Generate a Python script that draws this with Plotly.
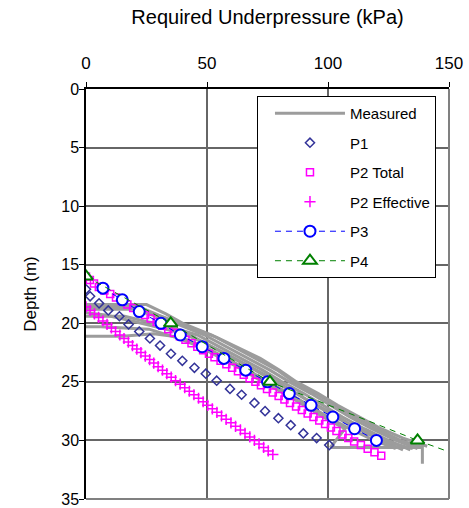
import plotly.graph_objects as go

# Required underpressure vs depth
# Measured profiles (kPa, m)
meas_1_x = [0, 25, 33, 40, 52, 61, 70, 79, 86, 95, 103, 111, 120, 130, 139]
meas_1_d = [18.4, 18.4, 19.2, 20.0, 21.0, 22.0, 23.0, 24.0, 25.0, 26.0, 27.0, 28.0, 29.0, 30.0, 30.6]
meas_2_x = [0, 20, 29, 37, 49, 58, 67, 76, 84, 93, 101, 109, 118, 128, 137]
meas_2_d = [18.8, 18.8, 19.4, 20.0, 21.0, 22.0, 23.0, 24.0, 25.0, 26.0, 27.0, 28.0, 29.0, 30.0, 30.7]
meas_3_x = [0, 16, 24, 33, 46, 55, 64, 73, 81, 90, 98, 106, 115, 125, 134]
meas_3_d = [19.4, 19.4, 19.8, 20.2, 21.0, 22.0, 23.0, 24.0, 25.0, 26.0, 27.0, 28.0, 29.0, 30.0, 30.8]
meas_4_x = [0, 8, 19, 29, 43, 52, 61, 70, 78, 87, 95, 103, 112, 122, 131]
meas_4_d = [19.1, 19.3, 19.8, 20.3, 21.0, 22.0, 23.0, 24.0, 25.0, 26.0, 27.0, 28.0, 29.0, 30.0, 30.8]
meas_5_x = [0, 15, 28, 39, 49, 58, 67, 75, 84, 92, 100, 109, 119, 128]
meas_5_d = [21.1, 21.1, 20.9, 21.2, 22.0, 23.0, 24.0, 25.0, 26.0, 27.0, 28.0, 29.0, 30.0, 30.7]
meas_6_x = [0, 6, 26, 37, 47, 56, 65, 73, 82, 90, 98, 107, 101, 139, 139]
meas_6_d = [20.3, 20.3, 20.5, 21.2, 22.0, 23.0, 24.0, 25.0, 26.0, 27.0, 28.0, 29.0, 30.6, 30.6, 32.0]
meas_7_x = [0, 22, 30, 41, 54, 63, 72, 80, 87, 96, 104, 113, 122, 131, 141]
meas_7_d = [18.6, 18.6, 19.3, 20.2, 21.2, 22.1, 23.0, 24.0, 25.0, 26.0, 27.0, 28.0, 29.0, 29.8, 30.5]
meas_8_x = [31, 36, 47, 57, 66, 74, 83, 91, 100, 108, 117, 126, 135]
meas_8_d = [19.8, 20.5, 21.5, 22.5, 23.5, 24.4, 25.5, 26.5, 27.5, 28.5, 29.4, 30.2, 30.7]

# P1
p1_x = [0, 1.7, 5.4, 9.2, 13.8, 17.6, 22.0, 26.4, 30.6, 35.1, 39.8, 44.8, 49.5, 54.0,
        59.5, 64.3, 69.6, 74.0, 79.5, 84.6, 89.8, 95.3, 100.5]
p1_d = [17.1, 17.7, 18.3, 18.9, 19.4, 20.1, 20.7, 21.3, 21.9, 22.6, 23.2, 23.8, 24.3, 24.9,
        25.6, 26.1, 26.8, 27.5, 28.1, 28.7, 29.4, 29.8, 30.4]

# P2 Total
p2t_d = [16.0, 16.3, 16.6, 16.9, 17.2, 17.5, 17.8, 18.1, 18.4, 18.7, 19.0, 19.3, 19.6, 19.9,
         20.2, 20.5, 20.8, 21.1, 21.4, 21.7, 22.0, 22.3, 22.6, 22.9, 23.2, 23.5, 23.8, 24.1,
         24.4, 24.7, 25.0, 25.3, 25.6, 25.9, 26.2, 26.5, 26.8, 27.1, 27.4, 27.7, 28.0, 28.3,
         28.6, 28.9, 29.2, 29.5, 29.8, 30.1, 30.4, 30.7, 31.0, 31.3]
p2t_x = [0.0, 1.6, 3.3, 5.3, 7.6, 10.0, 12.4, 14.8, 17.1, 19.5, 22.0, 24.4, 26.7, 29.2,
         31.6, 34.0, 36.3, 38.8, 41.1, 43.6, 46.0, 48.4, 50.8, 53.1, 55.6, 58.0, 60.4, 62.8,
         65.2, 67.6, 70.0, 72.3, 74.8, 77.2, 79.6, 82.0, 84.3, 86.8, 89.2, 91.6, 94.0, 96.4,
         98.8, 101.2, 103.5, 106.0, 108.4, 110.8, 113.6, 116.4, 119.2, 122.0]

# P2 Effective
p2e_d = [18.6, 18.9, 19.2, 19.5, 19.8, 20.1, 20.4, 20.7, 21.0, 21.3, 21.6, 21.9, 22.2, 22.5,
         22.8, 23.1, 23.4, 23.7, 24.0, 24.3, 24.6, 24.9, 25.2, 25.5, 25.8, 26.1, 26.4, 26.7,
         27.0, 27.3, 27.6, 27.9, 28.2, 28.5, 28.8, 29.1, 29.4, 29.7, 30.0, 30.3, 30.6, 30.9,
         31.2]
p2e_x = [0.0, 1.7, 3.5, 5.2, 7.0, 8.7, 10.5, 12.2, 14.0, 15.7, 17.5, 19.2, 21.0, 22.7,
         24.5, 26.3, 28.0, 29.8, 31.6, 33.4, 35.2, 37.0, 38.9, 40.8, 42.7, 44.6, 46.5, 48.4,
         50.3, 52.2, 54.1, 56.0, 57.9, 59.9, 61.8, 63.8, 65.7, 67.7, 69.6, 71.5, 73.4, 75.3,
         77.2]

# P3
p3_x = [7, 15, 22, 31, 39, 48, 57, 66, 75, 84, 93, 102, 111, 120]
p3_d = [17, 18, 19, 20, 21, 22, 23, 24, 25, 26, 27, 28, 29, 30]

# P4 (with its trend continued past the last point)
p4_x = [0, 35, 76, 137]
p4_d = [16, 20, 25, 30]
p4_ext_x = [137, 153]
p4_ext_d = [30, 31.2]

FONT = "Liberation Sans, Arial, sans-serif"
GRAY = "#9c9c9c"
GRID = "#666666"

fig = go.Figure()

measured = [(meas_1_x, meas_1_d), (meas_2_x, meas_2_d), (meas_3_x, meas_3_d),
            (meas_4_x, meas_4_d), (meas_5_x, meas_5_d), (meas_6_x, meas_6_d),
            (meas_7_x, meas_7_d), (meas_8_x, meas_8_d)]
for i, (mx, md) in enumerate(measured):
    fig.add_trace(go.Scatter(
        x=mx, y=md, mode="lines", name="Measured",
        line=dict(color=GRAY, width=3),
        legendgroup="meas", showlegend=(i == 0),
    ))

fig.add_trace(go.Scatter(
    x=p1_x, y=p1_d, mode="markers", name="P1", legendgroup="p1",
    marker=dict(symbol="diamond-open", size=7, color="#333399", line=dict(width=1.5)),
))
fig.add_trace(go.Scatter(
    x=p2t_x, y=p2t_d, mode="markers", name="P2 Total", legendgroup="p2t",
    marker=dict(symbol="square-open", size=7, color="#ff00ff", line=dict(width=1.5)),
))
fig.add_trace(go.Scatter(
    x=p2e_x, y=p2e_d, mode="markers", name="P2 Effective", legendgroup="p2e",
    marker=dict(symbol="cross-thin-open", size=8, color="#ff00ff",
                line=dict(width=1.5, color="#ff00ff")),
))
fig.add_trace(go.Scatter(
    x=p3_x, y=p3_d, mode="lines+markers", name="P3", legendgroup="p3",
    line=dict(color="#0000ff", width=1, dash="6px,5px"),
    marker=dict(symbol="circle", size=11, color="white",
                line=dict(width=2, color="#0000ff")),
))
fig.add_trace(go.Scatter(
    x=p4_ext_x, y=p4_ext_d, mode="lines", showlegend=False, legendgroup="p4",
    line=dict(color="#008000", width=1, dash="6px,5px"), hoverinfo="skip",
))
fig.add_trace(go.Scatter(
    x=p4_x, y=p4_d, mode="lines+markers", name="P4", legendgroup="p4",
    line=dict(color="#008000", width=1, dash="6px,5px"),
    marker=dict(symbol="triangle-up", size=12, color="white",
                line=dict(width=2, color="#008000")),
))

axis_common = dict(
    showgrid=True, gridcolor=GRID, gridwidth=1.5,
    zeroline=False, showline=True, linecolor="black", linewidth=1.5,
    ticks="outside", tickcolor="black", tickwidth=1,
    ticklabeloverflow="allow",
)

fig.update_xaxes(
    side="top", range=[0, 150], tickvals=[0, 50, 100, 150],
    ticklen=5, ticklabelstandoff=6,
    tickfont=dict(family=FONT, size=17, color="black"),
    title=dict(text="Required Underpressure (kPa)",
               font=dict(family=FONT, size=20, color="black"), standoff=24),
    **axis_common,
)
fig.update_yaxes(
    range=[35, 0], tickvals=[0, 5, 10, 15, 20, 25, 30, 35],
    ticklen=5, ticklabelstandoff=-3,
    tickfont=dict(family=FONT, size=16, color="black"),
    title=dict(text="Depth (m)", font=dict(family=FONT, size=17, color="black"),
               standoff=20),
    **axis_common,
)

# gray frame on the right and bottom of the plotting area
fig.add_shape(type="line", xref="paper", yref="paper", x0=1, x1=1, y0=0, y1=1,
              line=dict(color="#808080", width=2))
fig.add_shape(type="line", xref="paper", yref="paper", x0=0, x1=1, y0=0, y1=0,
              line=dict(color="#808080", width=2))

fig.update_layout(
    template="none",
    width=469, height=508,
    margin=dict(l=86, r=20, t=89, b=9, autoexpand=False),
    paper_bgcolor="white", plot_bgcolor="white",
    font=dict(family=FONT, color="black"),
    showlegend=True,
    legend=dict(
        x=0.471, y=0.983, xanchor="left", yanchor="top",
        bgcolor="white", bordercolor="black", borderwidth=1,
        font=dict(family=FONT, size=15, color="black"),
        itemwidth=70, indentation=12,
        traceorder="grouped", tracegroupgap=7,
    ),
)

fig.write_html("out.html")
